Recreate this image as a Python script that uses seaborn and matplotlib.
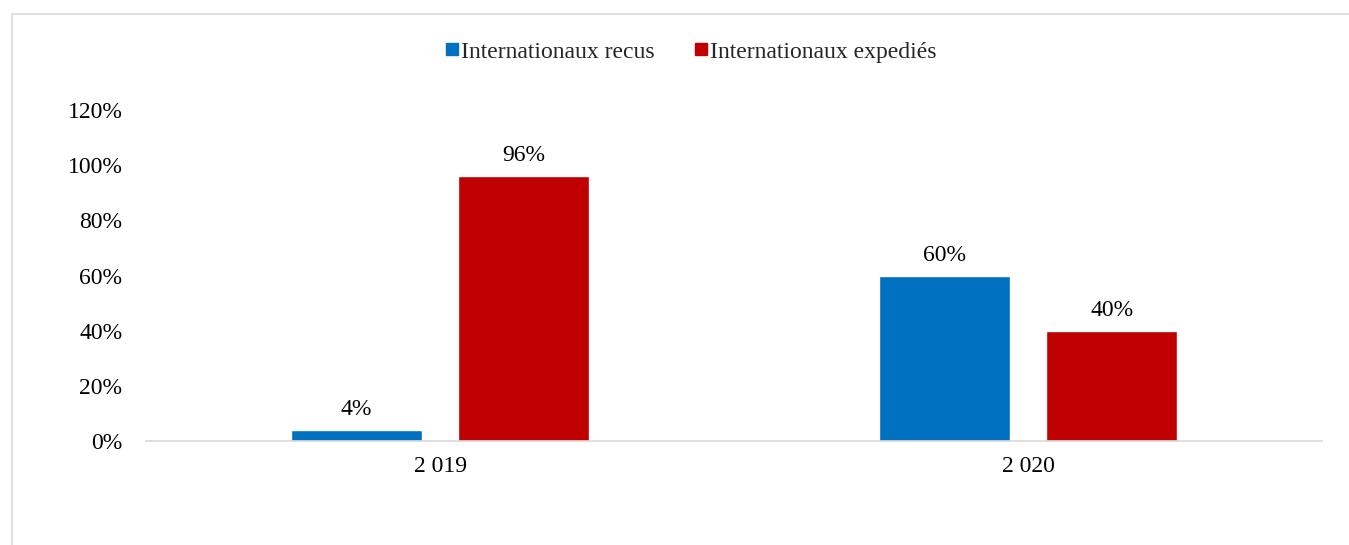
import numpy as np
import pandas as pd
import matplotlib
matplotlib.use("Agg")
import matplotlib.pyplot as plt
from matplotlib.patches import Rectangle
from matplotlib.lines import Line2D
import seaborn as sns

# données
annees = ["2 019", "2 020"]
series = ["Internationaux recus", "Internationaux expediés"]
recus = [0.04, 0.60]
expedies = [0.96, 0.40]
couleurs = ["#0070C0", "#C00000"]

sns.set_style("white")
plt.rcParams['font.family'] = ['Liberation Serif', 'DejaVu Serif']

df = pd.DataFrame({
    "annee": annees * 2,
    "serie": [series[0]] * len(annees) + [series[1]] * len(annees),
    "valeur": recus + expedies,
})

fig = plt.figure(figsize=(13.49, 5.45), dpi=100)
ax = fig.add_axes([146 / 1349, 1 - 441 / 545, (1322 - 146) / 1349, 331 / 545])

sns.barplot(data=df, x="annee", y="valeur", hue="serie", order=annees,
            hue_order=series, palette=couleurs, width=0.571, gap=0.22,
            saturation=1, errorbar=None, legend=False, ax=ax)

for cont in ax.containers:
    ax.bar_label(cont, labels=[f"{v * 100:.0f}%" for v in cont.datavalues],
                 padding=7, fontsize=17, color="#000000")

ax.set_ylim(0, 1.2)
ax.set_yticks(np.arange(0, 1.21, 0.2))
ax.set_yticklabels([f"{int(round(t * 100))}%" for t in np.arange(0, 1.21, 0.2)])
ax.set_xlim(-0.5, 1.5)
ax.set_xlabel("")
ax.set_ylabel("")
ax.tick_params(axis="both", length=0, labelsize=17, colors="#000000")
ax.tick_params(axis="y", pad=17)
ax.tick_params(axis="x", pad=11)
for s in ["top", "right", "left"]:
    ax.spines[s].set_visible(False)
ax.spines["bottom"].set_color("#D9D9D9")
ax.spines["bottom"].set_linewidth(1.2)

# légende
handles = [Line2D([0], [0], marker="s", linestyle="", markersize=8.5,
                  markerfacecolor=c, markeredgecolor=c) for c in couleurs]
fig.legend(handles, series, loc="center", bbox_to_anchor=(690 / 1349, 1 - 52 / 545),
           ncol=2, frameon=False, fontsize=17, handletextpad=0.05,
           columnspacing=1.6, handlelength=0.7)

# cadre du graphique
fig.patches.append(Rectangle((12 / 1349, -0.2), 1.2, 1.2 - 14 / 545,
                             transform=fig.transFigure, fill=False,
                             edgecolor="#D9D9D9", linewidth=1.2))

fig.savefig("out.png", dpi=100)
